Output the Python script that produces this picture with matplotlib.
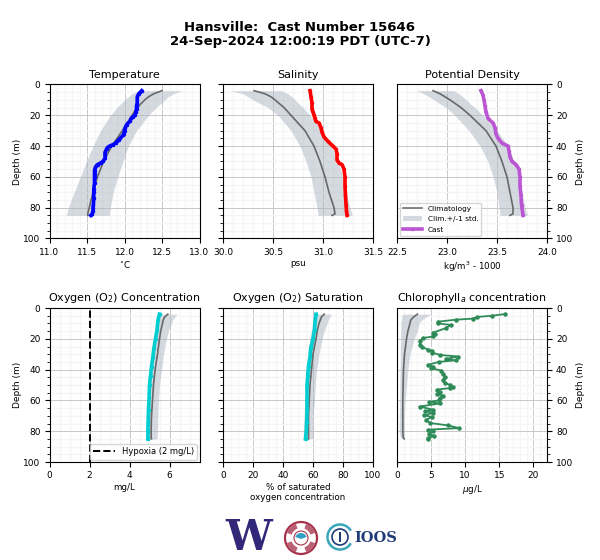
import matplotlib
matplotlib.use("Agg")
import matplotlib.pyplot as plt
from matplotlib.patches import Circle, Arc, Wedge, Rectangle

# temperature
temp_depth = [4, 5, 6, 8, 10, 12, 14, 16, 18, 20, 21, 22, 24, 26, 28, 30, 32, 33, 35, 36, 37, 38, 39, 40, 41, 42, 44, 46, 48, 50, 51, 52, 53, 54, 56, 58, 60, 64, 68, 70, 74, 78, 80, 82, 84, 85]
temp_cast = [12.23, 12.21, 12.19, 12.17, 12.17, 12.17, 12.16, 12.16, 12.15, 12.14, 12.11, 12.09, 12.07, 12.03, 12.01, 12.0, 11.99, 11.98, 11.94, 11.92, 11.9, 11.88, 11.85, 11.8, 11.77, 11.76, 11.74, 11.74, 11.74, 11.71, 11.68, 11.64, 11.62, 11.61, 11.6, 11.6, 11.6, 11.6, 11.59, 11.59, 11.59, 11.585, 11.58, 11.58, 11.57, 11.55]
clim_depth = [4, 6, 8, 10, 15, 20, 30, 40, 50, 60, 70, 80, 84, 85]
temp_clim = [12.5, 12.39, 12.32, 12.27, 12.17, 12.1, 11.97, 11.83, 11.72, 11.64, 11.58, 11.53, 11.51, 11.51]
temp_lo = [12.19, 12.1, 12.05, 12.0, 11.9, 11.81, 11.68, 11.58, 11.49, 11.41, 11.33, 11.25, 11.23, 11.22]
temp_hi = [12.77, 12.65, 12.58, 12.54, 12.42, 12.32, 12.16, 12.05, 11.98, 11.91, 11.85, 11.81, 11.8, 11.8]

# salinity
sal_depth = [4, 8, 12, 16, 18, 20, 22, 24, 25, 28, 31, 34, 37, 40, 42, 45, 49, 51, 52, 55, 60, 66, 72, 78, 82, 85]
sal_cast = [30.87, 30.88, 30.89, 30.89, 30.9, 30.91, 30.92, 30.93, 30.96, 30.98, 30.99, 31.01, 31.05, 31.1, 31.13, 31.14, 31.14, 31.16, 31.19, 31.21, 31.22, 31.22, 31.225, 31.23, 31.235, 31.24]
sal_clim = [30.31, 30.42, 30.48, 30.52, 30.61, 30.68, 30.82, 30.91, 30.97, 31.02, 31.06, 31.11, 31.12, 31.09]
sal_lo = [30.07, 30.2, 30.25, 30.3, 30.45, 30.55, 30.68, 30.77, 30.83, 30.88, 30.91, 30.94, 30.95, 30.95]
sal_hi = [30.58, 30.65, 30.69, 30.72, 30.8, 30.87, 30.99, 31.08, 31.15, 31.2, 31.23, 31.27, 31.29, 31.29]

# potential density
dens_depth = [4, 7, 10, 14, 18, 22, 25, 28, 32, 35, 38, 40, 43, 47, 50, 52, 55, 60, 66, 72, 78, 85]
dens_cast = [23.34, 23.36, 23.37, 23.38, 23.39, 23.41, 23.46, 23.48, 23.49, 23.51, 23.55, 23.61, 23.62, 23.63, 23.65, 23.69, 23.72, 23.73, 23.73, 23.74, 23.745, 23.76]
dens_clim = [22.86, 22.93, 22.98, 23.03, 23.14, 23.23, 23.39, 23.49, 23.55, 23.6, 23.63, 23.66, 23.66, 23.63]
dens_lo = [22.69, 22.77, 22.82, 22.87, 22.99, 23.08, 23.22, 23.33, 23.41, 23.46, 23.5, 23.52, 23.53, 23.53]
dens_hi = [23.07, 23.12, 23.16, 23.19, 23.28, 23.36, 23.5, 23.61, 23.67, 23.72, 23.75, 23.78, 23.8, 23.81]

# oxygen concentration
o2_depth = [4, 8, 14, 20, 26, 32, 38, 44, 50, 58, 66, 74, 80, 85]
o2_cast = [5.5, 5.42, 5.38, 5.3, 5.22, 5.17, 5.1, 5.05, 5.0, 4.98, 4.95, 4.93, 4.92, 4.92]
o2_clim = [5.92, 5.75, 5.68, 5.65, 5.56, 5.5, 5.4, 5.28, 5.2, 5.15, 5.1, 5.08, 5.08, 5.1]
o2_lo = [5.5, 5.42, 5.38, 5.35, 5.27, 5.2, 5.08, 5.03, 4.98, 4.93, 4.88, 4.85, 4.83, 4.83]
o2_hi = [6.4, 6.25, 6.15, 6.1, 5.95, 5.85, 5.7, 5.6, 5.5, 5.45, 5.42, 5.4, 5.38, 5.38]

# oxygen saturation
sat_cast = [62, 61.5, 61, 60, 58.5, 58, 57, 56.5, 56, 56, 56, 55.8, 55.5, 55]
sat_clim = [67.5, 65.5, 64.8, 64, 62.8, 62, 60, 59, 58, 57.5, 57, 57, 57, 57]
sat_lo = [60, 60, 59.8, 59.5, 58.8, 58, 56.5, 55.5, 55, 54.5, 54, 53.5, 53.5, 53.5]
sat_hi = [72.5, 71, 70, 69.5, 67.5, 66, 64, 62.5, 61.5, 61, 60, 60, 60, 60]

# chlorophyll
chl_depth = [3.9, 5, 5.8, 6.9, 7.6, 8.9, 10, 11, 13, 16, 17, 18.5, 19.5, 21.5, 24, 25.5, 27, 28, 29, 30.5, 31.5, 33, 34, 35, 37, 38, 39, 40.7, 43, 44.5, 46.5, 48.7, 49.8, 51, 52, 53, 54.5, 56, 57, 58.5, 60, 61, 62, 64, 66, 67, 68, 69.7, 70.8, 72.5, 74.7, 76.2, 78, 79, 80, 81.6, 83, 84.4, 85]
chl_cast = [15.9, 14, 11.8, 11.1, 8.6, 6.0, 6.0, 7.9, 7.2, 5.3, 5.5, 5.3, 3.8, 3.3, 3.4, 3.7, 4.6, 5.2, 5.2, 6.3, 9.0, 7.2, 8.6, 6.1, 4.5, 5.3, 5.0, 6.5, 6.8, 7.0, 6.8, 7.0, 7.7, 8.2, 7.7, 5.9, 6.3, 5.9, 6.8, 6.3, 6.1, 4.7, 6.3, 3.3, 5.3, 4.1, 5.3, 4.0, 5.2, 4.3, 4.8, 7.5, 9.1, 4.6, 5.3, 4.7, 5.4, 4.6, 4.6]
chl_clim = [3.0, 2.4, 2.0, 1.9, 1.6, 1.4, 1.1, 0.95, 0.9, 0.85, 0.85, 0.85, 0.9, 1.05]
chl_lo = [0.8, 0.7, 0.62, 0.55, 0.52, 0.5, 0.48, 0.45, 0.42, 0.4, 0.35, 0.3, 0.5, 0.9]
chl_hi = [5.0, 4.2, 3.6, 3.2, 3.0, 2.5, 1.9, 1.6, 1.4, 1.2, 1.1, 1.1, 1.1, 1.1]

plt.rcParams["font.size"] = 6.5

band_color = "#adb5c2"
clim_color = "#555555"


def profile(pos, title, xlim, xticks, xlabel, depth, cast, color, clim, lo, hi, minor, side="left", marker=1.5, lw=2.6):
    ax = fig.add_axes([pos[0] / 600, 1 - (pos[1] + 154) / 560, 150 / 600, 154 / 560])
    ax.fill_betweenx(clim_depth, lo, hi, color=band_color, alpha=0.5, lw=0, label="Clim.+/-1 std.", zorder=2)
    ax.plot(clim, clim_depth, color=clim_color, lw=1.2, alpha=0.85, label="Climatology", zorder=3)
    ax.plot(cast, depth, color=color, lw=lw, marker="o", ms=marker, label="Cast", zorder=4)
    ax.set_xlim(xlim)
    ax.set_ylim(100, 0)
    ax.set_xticks(xticks)
    ax.set_xticks([xticks[0] + i * minor for i in range(int(round((xlim[1] - xticks[0]) / minor)) + 1)], minor=True)
    ax.set_yticks(range(0, 101, 20))
    ax.set_yticks(range(0, 101, 5), minor=True)
    ax.grid(which="major", color="#c8c8c8", lw=0.7, zorder=0)
    ax.grid(which="minor", color="#f5f5f5", lw=1.0, zorder=0)
    ax.set_axisbelow(True)
    ax.tick_params(axis="both", which="major", length=3.5, width=0.8, labelsize=6.5, pad=3)
    ax.tick_params(axis="y", which="minor", length=2, width=0.6)
    ax.tick_params(axis="x", which="minor", length=0)
    ax.set_title(title, fontsize=8, pad=5)
    ax.set_xlabel(xlabel, fontsize=6.3, labelpad=2, linespacing=1.1)
    if side == "left":
        ax.set_ylabel("Depth (m)", fontsize=6.5, labelpad=1)
    elif side == "right":
        ax.yaxis.tick_right()
        ax.yaxis.set_label_position("right")
        ax.set_ylabel("Depth (m)", fontsize=6.5, labelpad=2)
    else:
        ax.tick_params(axis="y", labelleft=False)
    return ax


fig = plt.figure(figsize=(6, 5.6), dpi=100)
fig.text(0.5, 0.951, "Hansville:  Cast Number 15646", ha="center", va="center", fontsize=9.5, fontweight="bold")
fig.text(0.5, 0.925, "24-Sep-2024 12:00:19 PDT (UTC-7)", ha="center", va="center", fontsize=9.5, fontweight="bold")

profile((49.5, 84.5), "Temperature", (11, 13), [11, 11.5, 12, 12.5, 13], "$^{\\circ}$C", temp_depth, temp_cast, "blue", temp_clim, temp_lo, temp_hi, 0.1)
profile((223, 84.5), "Salinity", (30, 31.5), [30, 30.5, 31, 31.5], "psu", sal_depth, sal_cast, "red", sal_clim, sal_lo, sal_hi, 0.1, side="none")
ax3 = profile((397, 84.5), "Potential Density", (22.5, 24), [22.5, 23, 23.5, 24], "kg/m$^3$ - 1000", dens_depth, dens_cast, "mediumorchid", dens_clim, dens_lo, dens_hi, 0.1, side="right")
handles, labels = ax3.get_legend_handles_labels()
order = [labels.index(n) for n in ["Climatology", "Clim.+/-1 std.", "Cast"]]
ax3.legend([handles[i] for i in order], [labels[i] for i in order], loc="lower left", fontsize=5.3, borderaxespad=0.35, labelspacing=0.6, handlelength=2.6)

ax4 = profile((49.5, 308), "Oxygen (O$_2$) Concentration", (0, 7.5), [0, 2, 4, 6], "mg/L", o2_depth, o2_cast, "darkturquoise", o2_clim, o2_lo, o2_hi, 0.5)
hyp = ax4.axvline(2, color="black", ls="--", lw=1.4, zorder=3, label="Hypoxia (2 mg/L)")
ax4.legend([hyp], ["Hypoxia (2 mg/L)"], loc="lower right", fontsize=6, borderaxespad=0.3, handlelength=2.6)
profile((223, 308), "Oxygen (O$_2$) Saturation", (0, 100), [0, 20, 40, 60, 80, 100], "% of saturated\noxygen concentration", o2_depth, sat_cast, "darkturquoise", sat_clim, sat_lo, sat_hi, 5, side="none")
profile((397, 308), "Chlorophyll$_a$ concentration", (0, 22), [0, 5, 10, 15, 20], "$\\mu$g/L", chl_depth, chl_cast, "seagreen", chl_clim, chl_lo, chl_hi, 1, side="right", marker=2.2, lw=1.3)

# logos along the bottom, drawn on an overlay in pixel coordinates
logo = fig.add_axes([0, 0, 1, 1], zorder=10)
logo.set_xlim(0, 600)
logo.set_ylim(560, 0)
logo.axis("off")
logo.text(249, 538, "W", ha="center", va="center", fontsize=30, fontweight="bold", family="DejaVu Serif", color="#33277a")
logo.add_patch(Circle((301, 538), 16, fc="white", ec="#a8324a", lw=1.6))
for start in (20, 110, 200, 290):
    logo.add_patch(Wedge((301, 538), 15, start, start + 50, width=5, fc="#b96072", ec="none"))
logo.add_patch(Circle((301, 538), 7, fc="white", ec="#a8324a", lw=0.8))
logo.add_patch(Wedge((301, 539), 6, 200, 340, fc="#2f9fc4", ec="none"))
logo.add_patch(Arc((340, 537), 25, 25, angle=0, theta1=30, theta2=330, color="#3aa6b9", lw=1.8))
logo.add_patch(Circle((340, 537), 8, fc="white", ec="#1f3c78", lw=1.2))
logo.add_patch(Rectangle((339, 532), 2, 10, fc="#1f3c78", ec="none"))
logo.text(376, 538, "IOOS", ha="center", va="center", fontsize=10.5, fontweight="bold", family="DejaVu Serif", color="#1f3c78")

fig.savefig("out.png", dpi=100)
